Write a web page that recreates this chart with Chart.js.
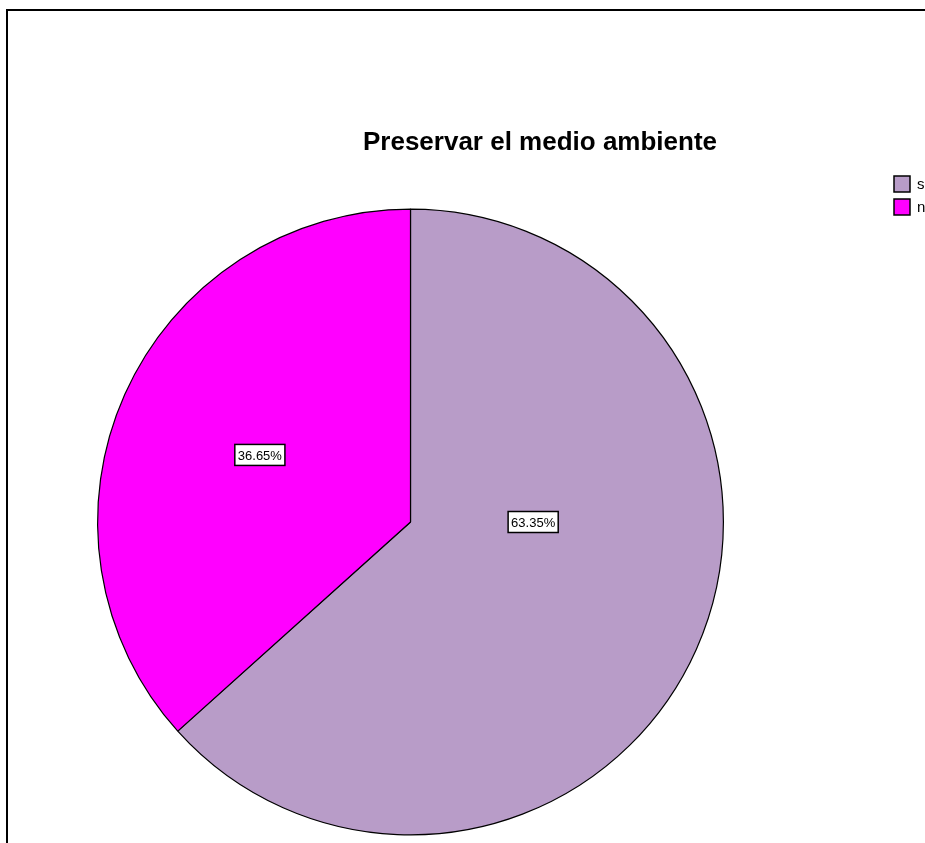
<!DOCTYPE html>
<html>
<head>
<meta charset="utf-8">
<script src="https://cdn.jsdelivr.net/npm/chart.js@4.4.1/dist/chart.umd.min.js"></script>
<style>
  html, body { margin: 0; padding: 0; background: #fff; overflow: hidden; }
  #wrap { position: relative; width: 925px; height: 843px; }
</style>
</head>
<body>
<div id="wrap"><canvas id="pieChart" width="925" height="843"></canvas></div>
<script>
// Preservar el medio ambiente
const categories = ["si", "no"];
const percents = [63.35, 36.65];
const sliceColors = ["#B89CC8", "#FF00FF"];
const chartTitle = "Preservar el medio ambiente";

// where each percent box sits, as (fraction of radius, angle in degrees clockwise from top)
const labelSpots = [
  { r: 0.392, deg: 90 },
  { r: 0.527, deg: 294 }
];

// outer frame around the plot area
const framePlugin = {
  id: "frame",
  beforeDraw(chart) {
    const c = chart.ctx;
    c.save();
    c.strokeStyle = "#000";
    c.lineWidth = 2;
    c.beginPath();
    c.moveTo(7, 845);
    c.lineTo(7, 10);
    c.lineTo(930, 10);
    c.stroke();
    c.restore();
  }
};

// title, legend and the value boxes
const annotatePlugin = {
  id: "annotate",
  afterDraw(chart) {
    const c = chart.ctx;
    c.save();

    c.fillStyle = "#000";
    c.font = "bold 26px 'Liberation Sans', Arial, sans-serif";
    c.textAlign = "center";
    c.textBaseline = "middle";
    c.fillText(chartTitle, 540, 143);

    // legend
    c.font = "15px 'Liberation Sans', Arial, sans-serif";
    c.textAlign = "left";
    categories.forEach((name, i) => {
      const y = 176 + i * 23;
      c.fillStyle = sliceColors[i];
      c.fillRect(894, y, 16, 16);
      c.strokeStyle = "#000";
      c.lineWidth = 1.5;
      c.strokeRect(894, y, 16, 16);
      c.fillStyle = "#000";
      c.fillText(name, 917, y + 9);
    });

    // percent boxes
    const arc = chart.getDatasetMeta(0).data[0];
    const cx = arc.x, cy = arc.y, R = arc.outerRadius;
    c.font = "13px 'Liberation Sans', Arial, sans-serif";
    c.textAlign = "center";
    percents.forEach((p, i) => {
      const spot = labelSpots[i];
      const a = spot.deg * Math.PI / 180;
      const x = cx + Math.sin(a) * spot.r * R;
      const y = cy - Math.cos(a) * spot.r * R;
      const txt = p.toFixed(2) + "%";
      const w = c.measureText(txt).width + 6;
      c.fillStyle = "#fff";
      c.fillRect(x - w / 2, y - 10.5, w, 21);
      c.strokeStyle = "#000";
      c.lineWidth = 1.5;
      c.strokeRect(x - w / 2, y - 10.5, w, 21);
      c.fillStyle = "#000";
      c.fillText(txt, x, y + 1);
    });

    c.restore();
  }
};

new Chart(document.getElementById("pieChart"), {
  type: "pie",
  data: {
    labels: categories,
    datasets: [{
      data: percents,
      backgroundColor: sliceColors,
      borderColor: "#000",
      borderWidth: 1.2
    }]
  },
  options: {
    responsive: false,
    animation: false,
    rotation: 0,
    layout: { padding: { left: 97, top: 208, right: 201, bottom: 7 } },
    plugins: {
      legend: { display: false },
      title: { display: false },
      tooltip: { enabled: false }
    }
  },
  plugins: [framePlugin, annotatePlugin]
});
</script>
</body>
</html>
